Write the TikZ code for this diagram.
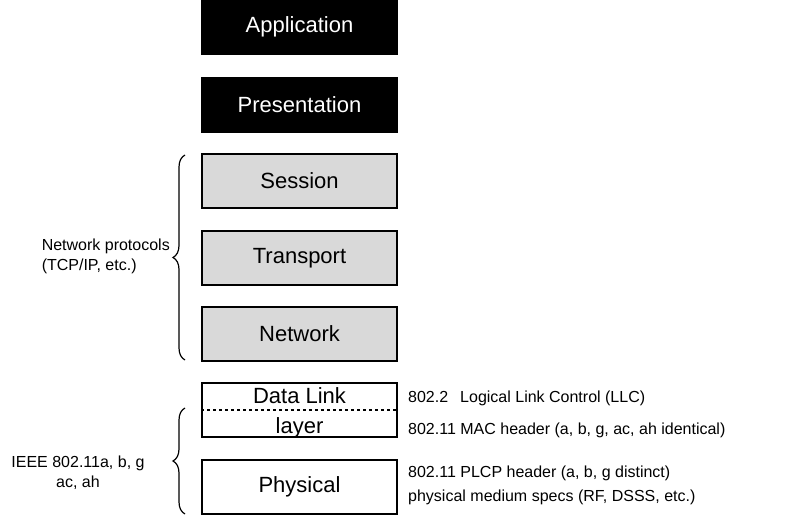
\documentclass[tikz,border=0pt]{standalone}
\usepackage{fontspec}
\setmainfont{Liberation Sans}
\usetikzlibrary{positioning,decorations.pathreplacing}
\tikzset{
  layer/.style={shape=rectangle,draw,line width=1.2pt,minimum width=195pt,minimum height=54pt,inner sep=0pt,font=\fontsize{22}{24}\selectfont},
  dark/.style={layer,fill=black,text=white},
  grey/.style={layer,fill=black!15},
  note/.style={anchor=west,inner sep=0pt,font=\fontsize{16}{18}\selectfont},
  brace/.style={decorate,decoration={brace,amplitude=12pt},line width=1.2pt},
}
\begin{document}
\begin{tikzpicture}[x=1pt,y=-1pt]
		\useasboundingbox (0,0) rectangle (786,518);
		% the layer boxes
		\node (app) [dark] at (299.5,27) {Application};
		\node (pres) [dark] at (299.5,105) {Presentation};
		\node (sess) [grey] at (299.5,181) {Session};
		\node (trans) [grey] at (299.5,258) {Transport};
		\node (net) [grey] at (299.5,334) {Network};
		\node (link) [layer] at (299.5,410) {};
		\node (phys) [layer] at (299.5,487) {Physical};
		\draw[dashed,line width=1.2pt] (link.west) -- (link.east);
		\node (linktop) [inner sep=0pt,font=\fontsize{22}{24}\selectfont] at (299.5,396) {Data Link};
		\node (linkbot) [inner sep=0pt,font=\fontsize{22}{24}\selectfont] at (299.5,428) {layer};
		
		% braces
		\coordinate (b1s) at (185,360);
		\coordinate (b1e) at (185,155);
		\coordinate (b2s) at (185,514);
		\coordinate (b2e) at (185,408);
		\draw[brace] (b1s) -- (b1e);
		\draw[brace] (b2s) -- (b2e);
		\node (netproto) [anchor=east,align=left,inner sep=0pt,font=\fontsize{16}{20}\selectfont] at (170,256) {Network protocols\\(TCP/IP, etc.)};
		\node (ieee) [align=center,inner sep=0pt,font=\fontsize{16}{20}\selectfont] at (78,473) {IEEE 802.11a, b, g\\ac, ah};
		
		% notes on the right
		\node (llc) [note] at (408,398) {802.2\hspace{12pt}Logical Link Control (LLC)};
		\node (mac) [note] at (408,430) {802.11 MAC header (a, b, g, ac, ah identical)};
		\node (plcp) [note] at (408,473) {802.11 PLCP header (a, b, g distinct)};
		\node (medium) [note] at (408,497) {physical medium specs (RF, DSSS, etc.)};
	\end{tikzpicture}
\end{document}
